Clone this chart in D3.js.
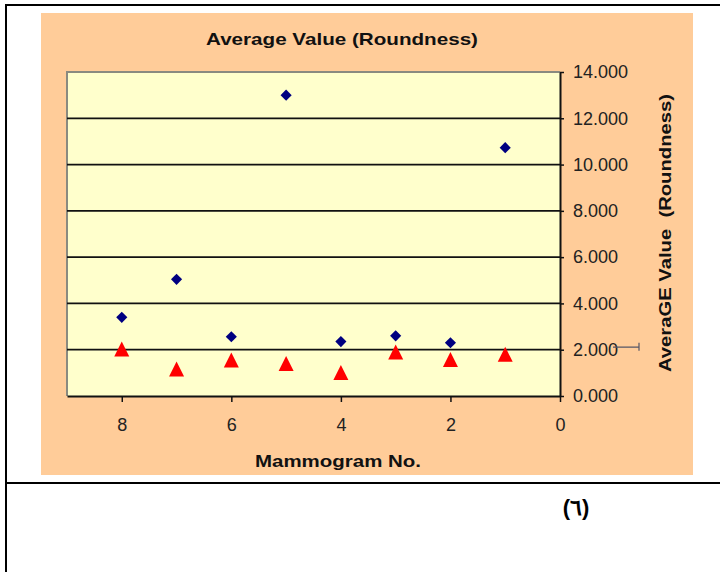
<!DOCTYPE html>
<html lang="en">
<head>
  <meta charset="utf-8">
  <title>Average Value (Roundness)</title>
  <script src="https://d3js.org/d3.v7.min.js"></script>
  <style>
    body { margin: 0; background: #fff; }
    text { font-family: "Liberation Sans", Arial, sans-serif; }
  </style>
</head>
<body>
<div id="my_dataviz"></div>
<script>
// values
const mammogram = [8, 7, 6, 5, 4, 3, 2, 1];
const diamondValues = [3.40, 5.04, 2.56, 13.0, 2.35, 2.60, 2.30, 10.73];
const triangleValues = [2.03, 1.17, 1.56, 1.40, 1.02, 1.90, 1.58, 1.80];
const xTicks = [8, 6, 4, 2, 0];
const yTicks = [0, 2, 4, 6, 8, 10, 12, 14];

const W = 720, H = 572;
const plot = {left: 67, right: 560, top: 72, bottom: 396};

const svg = d3.select("#my_dataviz")
  .append("svg")
    .attr("width", W)
    .attr("height", H);

// table borders around the chart
svg.append("line").attr("x1", 5).attr("x2", 720).attr("y1", 5).attr("y2", 5)
  .attr("stroke", "#000").attr("stroke-width", 2);
svg.append("line").attr("x1", 6).attr("x2", 6).attr("y1", 4).attr("y2", 572)
  .attr("stroke", "#000").attr("stroke-width", 2);
svg.append("line").attr("x1", 5).attr("x2", 720).attr("y1", 483).attr("y2", 483)
  .attr("stroke", "#000").attr("stroke-width", 2);

// chart area
svg.append("rect")
  .attr("x", 41).attr("y", 13).attr("width", 652).attr("height", 462)
  .attr("fill", "#FFCC99");

svg.append("rect")
  .attr("x", plot.left).attr("y", plot.top)
  .attr("width", plot.right - plot.left).attr("height", plot.bottom - plot.top)
  .attr("fill", "#FFFFCC");
svg.append("path")
  .attr("d", `M${plot.left},${plot.bottom}V${plot.top}H${plot.right}`)
  .attr("fill", "none").attr("stroke", "#8a8a80").attr("stroke-width", 2);

const x = d3.scaleLinear().domain([9, 0]).range([plot.left, plot.right]);
const y = d3.scaleLinear().domain([0, 14]).range([plot.bottom, plot.top]);

// gridlines
svg.append("g")
  .selectAll("line")
  .data(yTicks.filter(d => d > 0 && d < 14))
  .join("line")
    .attr("x1", plot.left).attr("x2", plot.right)
    .attr("y1", d => y(d)).attr("y2", d => y(d))
    .attr("stroke", "#111").attr("stroke-width", 1.8);

// x axis
const xAxis = svg.append("g")
  .attr("transform", `translate(0,${plot.bottom})`)
  .call(d3.axisBottom(x).tickValues(xTicks).tickFormat(d3.format("d"))
    .tickSize(6).tickPadding(16).tickSizeOuter(0));
xAxis.select(".domain").attr("stroke", "#111").attr("stroke-width", 2);
xAxis.selectAll(".tick line").attr("stroke", "#111").attr("stroke-width", 1.5);
xAxis.selectAll("text").attr("font-size", 18).attr("fill", "#222")
  .attr("font-family", "'Liberation Sans', Arial, sans-serif");

// right y axis
const yAxis = svg.append("g")
  .attr("transform", `translate(${plot.right},0)`)
  .call(d3.axisRight(y).tickValues(yTicks).tickFormat(d3.format(".3f"))
    .tickSize(4).tickPadding(9).tickSizeOuter(0));
yAxis.select(".domain").attr("stroke", "#111").attr("stroke-width", 2);
yAxis.selectAll(".tick line").attr("stroke", "#111").attr("stroke-width", 1.5);
yAxis.selectAll("text").attr("font-size", 18).attr("fill", "#222")
  .attr("font-family", "'Liberation Sans', Arial, sans-serif");

// little stray mark beside the 2.000 label
svg.append("path")
  .attr("d", `M613,${y(2) - 2.5}H639M639,${y(2) - 7}V${y(2) + 1}`)
  .attr("fill", "none").attr("stroke", "#556").attr("stroke-width", 1.2);

// markers
const diamond = d3.symbol(d3.symbolSquare, 62);
svg.append("g")
  .selectAll("path")
  .data(mammogram)
  .join("path")
    .attr("d", diamond)
    .attr("transform", (d, i) => `translate(${x(d)},${y(diamondValues[i])}) rotate(45)`)
    .attr("fill", "#000080");

// Excel-like triangle centred on its bounding box
const boxTriangle = {
  draw(context, size) {
    const h = Math.sqrt(size) / 2;
    context.moveTo(0, -h);
    context.lineTo(h, h);
    context.lineTo(-h, h);
    context.closePath();
  }
};
svg.append("g")
  .selectAll("path")
  .data(mammogram)
  .join("path")
    .attr("d", d3.symbol(boxTriangle, 225))
    .attr("transform", (d, i) => `translate(${x(d)},${y(triangleValues[i])})`)
    .attr("fill", "#FF0000");

// titles
svg.append("text")
  .attr("x", 342).attr("y", 45)
  .attr("text-anchor", "middle")
  .attr("font-size", 17).attr("font-weight", "bold").attr("fill", "#111")
  .attr("textLength", 272).attr("lengthAdjust", "spacingAndGlyphs")
  .text("Average Value (Roundness)");

svg.append("text")
  .attr("x", 338).attr("y", 467)
  .attr("text-anchor", "middle")
  .attr("font-size", 17).attr("font-weight", "bold").attr("fill", "#111")
  .attr("textLength", 166).attr("lengthAdjust", "spacingAndGlyphs")
  .text("Mammogram No.");

svg.append("text")
  .attr("transform", "translate(671,233) rotate(-90)")
  .attr("text-anchor", "middle")
  .attr("font-size", 17).attr("font-weight", "bold").attr("fill", "#111")
  .attr("textLength", 278).attr("lengthAdjust", "spacingAndGlyphs")
  .style("white-space", "pre")
  .text("AveraGE Value  (Roundness)");

// figure number below the chart
svg.append("text")
  .attr("x", 576).attr("y", 515)
  .attr("text-anchor", "middle")
  .attr("font-size", 22).attr("font-weight", "bold").attr("fill", "#000")
  .attr("font-family", "'Liberation Serif', 'DejaVu Serif', serif")
  .text("(٦)");
</script>
</body>
</html>
